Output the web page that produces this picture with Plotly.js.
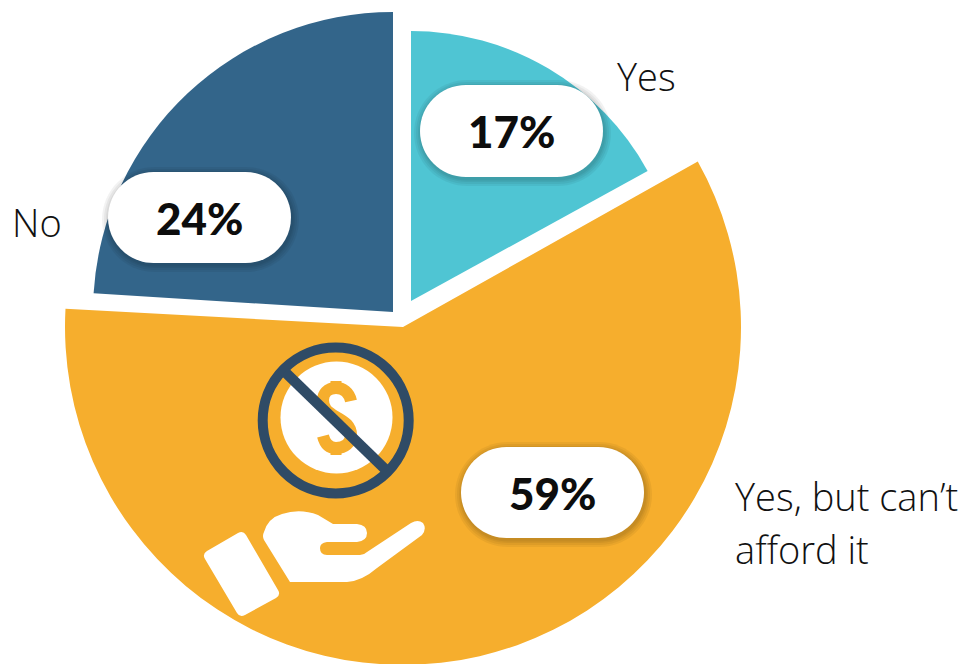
<!DOCTYPE html>
<html>
<head>
<meta charset="utf-8">
<script src="https://cdn.plot.ly/plotly-3.0.1.min.js"></script>
<style>
html,body{margin:0;padding:0;background:#fff;overflow:hidden;width:964px;height:664px}
#chart{position:absolute;left:0;top:-16px;width:964px;height:700px}
</style>
</head>
<body>
<div id="chart"></div>
<script>
const categories = ["Yes", "Yes, but can\u2019t afford it", "No"];
const shareValues = [17, 59, 24];
const percentLabels = ["17%", "59%", "24%"];
const sliceColors = ["#4FC5D3", "#F6AE2D", "#33658A"];
const labelLines = [["Yes"], ["Yes, but can\u2019t", "afford it"], ["No"]];

const W = 964, H = 700, OFF = 16;
const fx = x => x / W;
const fy = y => 1 - (y + OFF) / H;

// centre and radius of each separated slice, in page pixels
const sliceGeom = [
  {cx: 411, cy: 301, r: 270, rot: 0},
  {cx: 403, cy: 327, r: 338, rot: -0.5},
  {cx: 393, cy: 312, r: 300, rot: 0}
];

const traces = sliceGeom.map((g, i) => ({
  type: "pie",
  labels: categories,
  values: shareValues,
  sort: false,
  direction: "clockwise",
  rotation: g.rot,
  textinfo: "none",
  hoverinfo: "skip",
  showlegend: false,
  domain: {
    x: [fx(g.cx - g.r), fx(g.cx + g.r)],
    y: [Math.max(0, fy(g.cy + g.r)), Math.min(1, fy(g.cy - g.r))]
  },
  marker: {
    colors: sliceColors.map((c, j) => j === i ? c : "rgba(0,0,0,0)"),
    line: {width: 0}
  }
}));

// page-pixel path -> paper path
function P(str) {
  let isX = true;
  return str.replace(/-?\d+(\.\d+)?/g, m => {
    const v = parseFloat(m);
    const out = isX ? fx(v) : fy(v);
    isX = !isX;
    return out.toFixed(5);
  });
}
function pillPath(x0, y0, x1, y1) {
  const r = (y1 - y0) / 2, k = r * 0.5523;
  const ym = (y0 + y1) / 2;
  return P(`M ${x0 + r} ${y0} L ${x1 - r} ${y0} C ${x1 - r + k} ${y0} ${x1} ${ym - k} ${x1} ${ym} C ${x1} ${ym + k} ${x1 - r + k} ${y1} ${x1 - r} ${y1} L ${x0 + r} ${y1} C ${x0 + r - k} ${y1} ${x0} ${ym + k} ${x0} ${ym} C ${x0} ${ym - k} ${x0 + r - k} ${y0} ${x0 + r} ${y0} Z`);
}
function shape(path, fill, lineColor, lineWidth, opacity) {
  return {type: "path", xref: "paper", yref: "paper", layer: "above", path,
    fillcolor: fill, opacity: opacity === undefined ? 1 : opacity,
    line: {color: lineColor || "rgba(0,0,0,0)", width: lineWidth || 0}};
}
function circle(cx, cy, r, fill, lineColor, lineWidth) {
  return {type: "circle", xref: "paper", yref: "paper", layer: "above",
    x0: fx(cx - r), x1: fx(cx + r), y0: fy(cy + r), y1: fy(cy - r),
    fillcolor: fill, line: {color: lineColor || "rgba(0,0,0,0)", width: lineWidth || 0}};
}

const pillBoxes = [
  {x0: 420, y0: 85, x1: 603, y1: 177},
  {x0: 461, y0: 447, x1: 644, y1: 538},
  {x0: 108, y0: 172, x1: 291, y1: 263}
];

const shapes = [];
// coin icon
shapes.push(circle(336.5, 417.5, 56, "#FFFFFF"));
shapes.push(shape(P("M 351 401 C 349 392 343 388 336 388 C 327 388 323 394 323 400 C 323 409 328 412 336 417 C 345 422 351 426 351 435 C 351 443 345 448 336 448 C 329 448 325 444 323 436"),
  "rgba(0,0,0,0)", sliceColors[1], 12));
shapes.push(shape(P("M 336 381 L 336 390"), "rgba(0,0,0,0)", sliceColors[1], 11));
shapes.push(shape(P("M 336 446 L 336 455"), "rgba(0,0,0,0)", sliceColors[1], 11));
shapes.push(circle(335.7, 420.5, 73, "rgba(0,0,0,0)", "#2F4B66", 10));
shapes.push(shape(P("M 285 372 L 387 471"), "rgba(0,0,0,0)", "#2F4B66", 10.5));
// card and hand icon
shapes.push(shape(P("M 207 551 L 238 533 Q 243 530 246 535 L 278 590 Q 281 595 276 598 L 245 615 Q 240 618 237 613 L 205 559 Q 202 554 207 551 Z"), "#FFFFFF"));
shapes.push(shape(P("M 264 532 Q 268 518 282 514 Q 300 508 318 515 L 333 524 L 357 524 Q 367 525 367 533 Q 367 541 357 542 L 327 542 Q 320 543 320 548 Q 320 555 327 555 L 360 555 Q 364 555 367 552 L 411 523 Q 418 519 423 523 Q 427 529 422 535 L 377 568 Q 362 581 347 582 L 290 582 L 264 540 Q 262 536 264 532 Z"), "#FFFFFF"));
// percentage pills with soft shadow
pillBoxes.forEach(b => {
  [7, 5, 3, 1.5].forEach(g => {
    shapes.push(shape(pillPath(b.x0 - g + 1, b.y0 - g + 2, b.x1 + g + 1, b.y1 + g + 2), "#000000", null, 0, 0.05));
  });
  shapes.push(shape(pillPath(b.x0, b.y0, b.x1, b.y1), "#FFFFFF"));
});

const annotations = [];
percentLabels.forEach((t, i) => {
  const b = pillBoxes[i];
  annotations.push({
    xref: "paper", yref: "paper", showarrow: false,
    x: fx((b.x0 + b.x1) / 2), y: fy((b.y0 + b.y1) / 2), xanchor: "center", yanchor: "middle",
    text: t,
    font: {family: "Lato, sans-serif", size: 44, weight: 900, color: "#0D0D0D"}
  });
});
const labelPos = [
  [{x: 615, y: 76}],
  [{x: 733, y: 496}, {x: 733, y: 549}],
  [{x: 10, y: 222}]
];
labelLines.forEach((lines, i) => lines.forEach((t, j) => {
  annotations.push({
    xref: "paper", yref: "paper", showarrow: false,
    x: fx(labelPos[i][j].x), y: fy(labelPos[i][j].y), xanchor: "left", yanchor: "middle",
    text: t, align: "left",
    font: {family: "'Open Sans', sans-serif", size: 38, weight: 300, color: "#111111"}
  });
}));

Plotly.newPlot("chart", traces, {
  width: W, height: H,
  margin: {l: 0, r: 0, t: 0, b: 0, pad: 0},
  paper_bgcolor: "#FFFFFF",
  showlegend: false,
  shapes, annotations
}, {displayModeBar: false, staticPlot: true});
</script>
</body>
</html>
